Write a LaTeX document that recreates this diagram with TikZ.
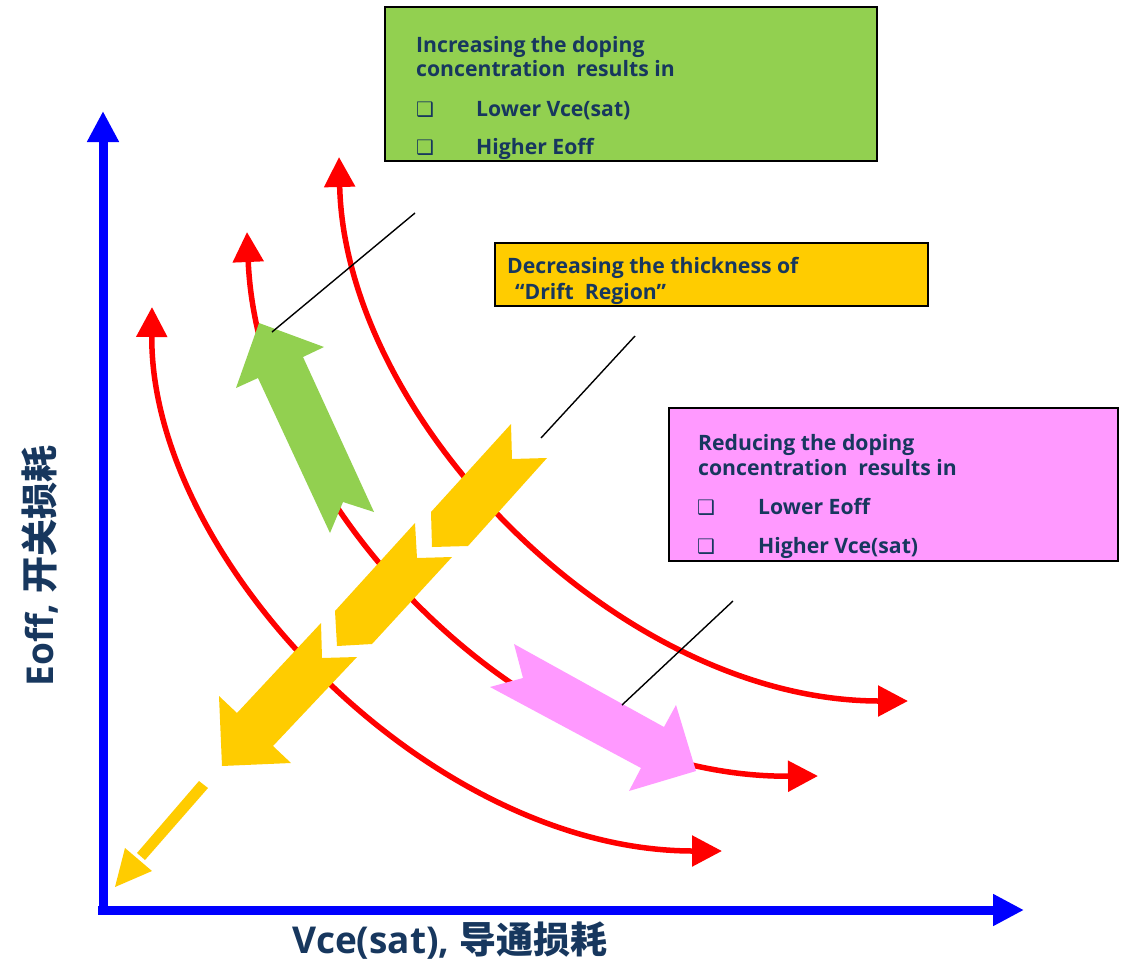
\documentclass[tikz,border=0pt]{standalone}
\usepackage{fontspec}
\usetikzlibrary{arrows.meta}
\newfontfamily\lat{Open Sans}
\newfontfamily\cjk{Noto Sans CJK SC}
\newfontfamily\sym{DejaVu Sans}
\definecolor{navy}{RGB}{23,55,94}
\definecolor{leafgreen}{RGB}{146,208,80}
\definecolor{amber}{RGB}{255,204,0}
\definecolor{orchid}{RGB}{255,153,255}
\tikzset{
  lossline/.style={draw=red, line width=5.5pt,
    {Triangle[length=30pt,width=30pt]}-{Triangle[length=30pt,width=30pt]}},
  axisline/.style={draw=blue, line width=9pt, -{Triangle[length=31pt,width=30pt]}},
  infobox/.style={draw=black, line width=1.5pt, rectangle, anchor=north west, inner sep=0pt},
  txt/.style={font=\lat\bfseries\fontsize{21.2}{25}\selectfont, text=navy, inner sep=0pt, anchor=base west},
  tick/.style={font=\sym\bfseries\fontsize{20}{24}\selectfont, text=navy, inner sep=0pt, anchor=base west},
  axislabel/.style={font=\bfseries\fontsize{37}{42}\selectfont, text=navy, inner sep=0pt},
  leader/.style={draw=black, line width=1.4pt}
}
\begin{document}
\begin{tikzpicture}[x=1pt,y=-1pt]
\useasboundingbox (0,0) rectangle (1127,964);
\fill[white] (0,0) rectangle (1127,964);

% axes
\coordinate (origin) at (103,912);
\coordinate (ytop) at (103,111);
\coordinate (xleft) at (98,910);
\coordinate (xright) at (1024,910);
\draw[axisline] (origin) -- (ytop);
\draw[axisline] (xleft) -- (xright);

% trade-off curves
\coordinate (c1a) at (152,307); \coordinate (c1b) at (722,851);
\coordinate (c2a) at (247,232); \coordinate (c2b) at (818,776);
\coordinate (c3a) at (339,157); \coordinate (c3b) at (908,701);
\draw[lossline] (c1a) .. controls (150,560) and (430,851) .. (c1b);
\draw[lossline] (c2a) .. controls (258,500) and (520,778) .. (c2b);
\draw[lossline] (c3a) .. controls (345,420) and (620,701) .. (c3b);

% higher doping: green block arrow
\fill[leafgreen] (259,323) -- (324,347) -- (303,357) -- (374,512) -- (343,502)
  -- (330,533) -- (258,378) -- (236,388) -- cycle;

% thinner drift region: amber chevrons and arrow
\fill[amber] (511,424) -- (512,459) -- (547,458) -- (468,546) -- (432,547) -- (431,512) -- cycle;
\fill[amber] (415,523) -- (417,558) -- (452,557) -- (372,644) -- (337,646) -- (335,611) -- cycle;
\fill[amber] (321,623) -- (322,658) -- (357,657) -- (273,746) -- (291,763) -- (222,766)
  -- (219,696) -- (237,713) -- cycle;
\fill[amber] (199,781) -- (208,788) -- (145,860) -- (137,853) -- cycle;
\fill[amber] (125,848) -- (152,871) -- (115,887) -- cycle;

% lower doping: pink block arrow
\fill[orchid] (514,644) -- (523,678) -- (490,687) -- (641,768) -- (629,791) -- (696,771)
  -- (676,705) -- (664,727) -- cycle;

% leader lines
\coordinate (g0) at (415,213); \coordinate (g1) at (272,332);
\coordinate (y0) at (635,336); \coordinate (y1) at (541,438);
\coordinate (p0) at (733,601); \coordinate (p1) at (622,705);
\draw[leader] (g0) -- (g1);
\draw[leader] (y0) -- (y1);
\draw[leader] (p0) -- (p1);

% green box
\node[infobox, fill=leafgreen, minimum width=492pt, minimum height=154pt] (gbox) at (384,6) {};
\node[txt] (gt1) at (416,52) {Increasing the doping};
\node[txt] (gt2) at (416,76) {concentration~ results in};
\node[tick] (gb1) at (416,116) {❑};
\node[txt] (gt3) at (476,116) {Lower Vce(sat)};
\node[tick] (gb2) at (416,154) {❑};
\node[txt] (gt4) at (476,154) {Higher Eoff};

% amber box
\node[infobox, fill=amber, minimum width=433pt, minimum height=63pt] (ybox) at (494,242) {};
\node[txt] (yt1) at (507,273) {Decreasing the thickness of};
\node[txt] (yt2) at (515,299) {“Drift~ Region”};

% pink box
\node[infobox, fill=orchid, minimum width=449pt, minimum height=153pt] (pbox) at (668,407) {};
\node[txt] (pt1) at (698,450) {Reducing the doping};
\node[txt] (pt2) at (698,475) {concentration~ results in};
\node[tick] (pb1) at (697,514) {❑};
\node[txt] (pt3) at (758,514) {Lower Eoff};
\node[tick] (pb2) at (697,553) {❑};
\node[txt] (pt4) at (758,553) {Higher Vce(sat)};

% axis labels
\node[axislabel] (xlab) at (450,941) {\lat\bfseries Vce(sat), \cjk\bfseries 导通损耗};
\node[axislabel, rotate=90] (ylab) at (40,566) {\lat\bfseries Eoff, \cjk\bfseries 开关损耗};
\end{tikzpicture}
\end{document}
